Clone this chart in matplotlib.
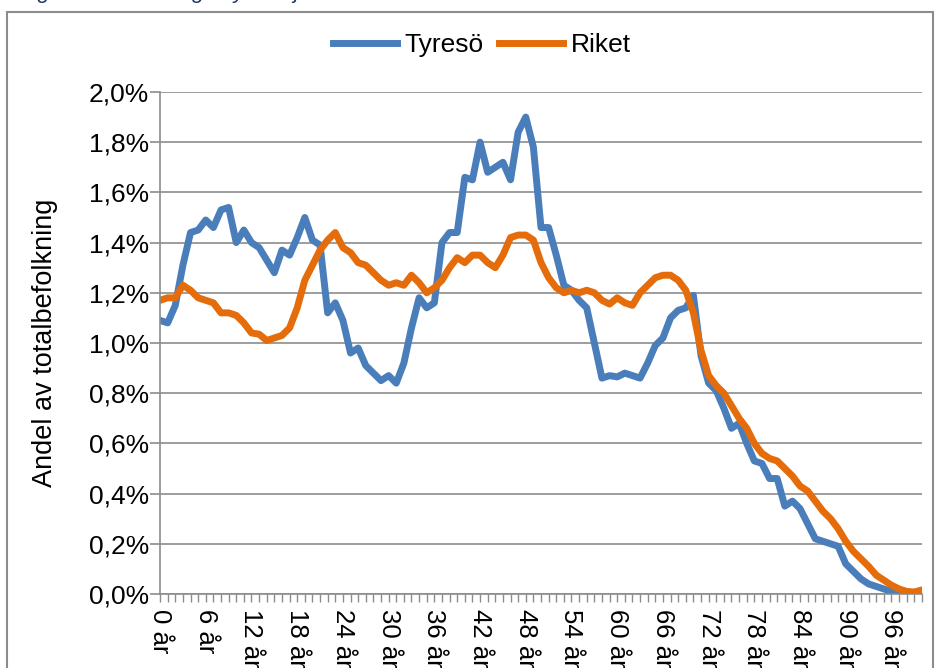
import numpy as np
import matplotlib.pyplot as plt
from matplotlib.patches import Rectangle
from matplotlib.ticker import FixedLocator, FuncFormatter

plt.rcParams['font.family'] = ['Liberation Sans', 'DejaVu Sans']

# andel av totalbefolkningen (%) per ålder 0-100 år
ages = list(range(101))
tyreso = [1.09, 1.08, 1.15, 1.31, 1.44, 1.45, 1.49, 1.46, 1.53, 1.54,
          1.40, 1.45, 1.40, 1.38, 1.33, 1.28, 1.37, 1.35, 1.42, 1.50,
          1.41, 1.39, 1.12, 1.16, 1.09, 0.96, 0.98, 0.91, 0.88, 0.85,
          0.87, 0.84, 0.92, 1.06, 1.18, 1.14, 1.16, 1.40, 1.44, 1.44,
          1.66, 1.65, 1.80, 1.68, 1.70, 1.72, 1.65, 1.84, 1.90, 1.78,
          1.46, 1.46, 1.35, 1.23, 1.21, 1.17, 1.14, 1.00, 0.86, 0.87,
          0.865, 0.88, 0.87, 0.86, 0.92, 0.99, 1.02, 1.10, 1.13, 1.14,
          1.19, 0.95, 0.84, 0.81, 0.74, 0.66, 0.68, 0.60, 0.53, 0.52,
          0.46, 0.46, 0.35, 0.37, 0.34, 0.28, 0.22, 0.21, 0.20, 0.19,
          0.12, 0.09, 0.06, 0.04, 0.03, 0.02, 0.01, 0.005, 0.003, 0.002,
          0.008]
riket = [1.17, 1.18, 1.18, 1.23, 1.21, 1.18, 1.17, 1.16, 1.12, 1.12,
         1.11, 1.08, 1.04, 1.035, 1.01, 1.02, 1.03, 1.06, 1.14, 1.25,
         1.31, 1.37, 1.41, 1.44, 1.38, 1.36, 1.32, 1.31, 1.28, 1.25,
         1.23, 1.24, 1.23, 1.27, 1.24, 1.20, 1.22, 1.25, 1.30, 1.34,
         1.32, 1.35, 1.35, 1.32, 1.30, 1.35, 1.42, 1.43, 1.43, 1.41,
         1.32, 1.26, 1.22, 1.20, 1.21, 1.20, 1.21, 1.20, 1.17, 1.155,
         1.18, 1.16, 1.15, 1.20, 1.23, 1.26, 1.27, 1.27, 1.25, 1.21,
         1.12, 0.97, 0.87, 0.83, 0.80, 0.75, 0.70, 0.66, 0.60, 0.56,
         0.54, 0.53, 0.50, 0.47, 0.43, 0.41, 0.37, 0.33, 0.30, 0.26,
         0.21, 0.17, 0.14, 0.11, 0.075, 0.055, 0.035, 0.02, 0.01, 0.008,
         0.016]
label_ages = list(range(0, 97, 6))
y_ticks = [0.0, 0.2, 0.4, 0.6, 0.8, 1.0, 1.2, 1.4, 1.6, 1.8, 2.0]

fig = plt.figure(figsize=(9.36, 6.68), dpi=100)
ax = fig.add_axes([0.171, 0.1108, 0.814, 0.7515])

ax.plot(ages, tyreso, color='#4A7EBB', lw=5, solid_joinstyle='round', label='Tyresö')
ax.plot(ages, riket, color='#E46C0A', lw=5, solid_joinstyle='round', label='Riket')

ax.set_xlim(0, 100)
ax.set_ylim(0, 2.0)
ax.set_yticks(y_ticks)
ax.yaxis.set_major_formatter(FuncFormatter(lambda v, p: f"{v:.1f}%".replace('.', ',')))
ax.grid(axis='y', color='#8c8c8c', lw=1.2)
ax.set_axisbelow(True)

ax.set_xticks(label_ages)
ax.set_xticklabels([f"{a} år" for a in label_ages], rotation=-90, fontsize=18.5)
ax.xaxis.set_minor_locator(FixedLocator(ages))
ax.tick_params(axis='x', which='both', length=6, color='#8c8c8c', width=1, pad=5)
ax.tick_params(axis='y', length=7, color='#8c8c8c', width=1.2, labelsize=19, pad=1)

for s in ['top', 'right']:
    ax.spines[s].set_visible(False)
for s in ['left', 'bottom']:
    ax.spines[s].set_color('#8c8c8c')
    ax.spines[s].set_linewidth(1.2)

ax.set_ylabel('Andel av totalbefolkning', fontsize=19.5, labelpad=22)

fig.legend(loc='center', bbox_to_anchor=(0.515, 0.932), ncol=2, frameon=False,
           fontsize=19, handlelength=2.4, columnspacing=0.6, handletextpad=0.3)

# ram runt diagrammet
fig.patches.append(Rectangle((7 / 936, -0.05), 926 / 936, 1.05 - 12 / 668,
                             transform=fig.transFigure, fill=False,
                             edgecolor='#8c8c8c', lw=1.5, clip_on=False))

# avskuren rubrik ovanför
fig.text(0.02, 1 + 2 / 668, 'Figur 4: Befolkning i Tyresö jämfört med riket 2013',
         fontsize=16, style='italic', color='#1F3864', va='baseline')

fig.savefig('out.png', dpi=100)
